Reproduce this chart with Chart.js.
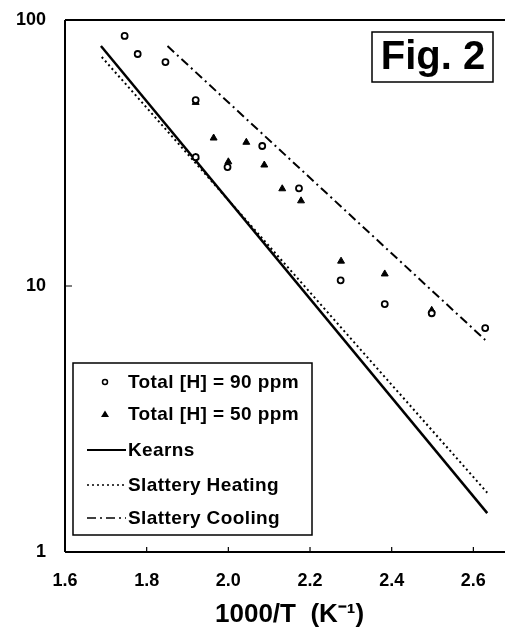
<!DOCTYPE html>
<html>
<head>
<meta charset="utf-8">
<script src="https://cdn.jsdelivr.net/npm/chart.js@4"></script>
<style>
  html, body { margin: 0; padding: 0; background: #fff; overflow: hidden; }
  #wrap { width: 520px; height: 635px; }
</style>
</head>
<body>
<div id="wrap"><canvas id="fig2" width="520" height="635"></canvas></div>
<script>
// 1000/T values and diffusivity readings
const h90X = [1.746, 1.778, 1.846, 1.92, 1.92, 1.998, 2.083, 2.173, 2.275, 2.383, 2.498, 2.629];
const h90Y = [87.1, 74.5, 69.5, 50.0, 30.5, 28.0, 33.6, 23.3, 10.5, 8.55, 7.9, 6.95];
const h50X = [1.92, 1.92, 1.964, 2.0, 2.044, 2.088, 2.132, 2.178, 2.276, 2.383, 2.498];
const h50Y = [49.0, 30.5, 36.0, 29.3, 34.7, 28.5, 23.2, 20.9, 12.4, 11.1, 8.1];

// fitted lines (end points)
const kearnsX = [1.688, 2.634];
const kearnsY = [79.8, 1.40];
const heatingX = [1.69, 2.634];
const heatingY = [72.6, 1.67];
const coolingX = [1.851, 2.629];
const coolingY = [79.8, 6.27];

const xTicks = [1.6, 1.8, 2.0, 2.2, 2.4, 2.6];
const yTicks = [1, 10, 100];

const legendItems = [
  { label: 'Total [H] = 90 ppm', kind: 'circle' },
  { label: 'Total [H] = 50 ppm', kind: 'triangle' },
  { label: 'Kearns', kind: 'solid' },
  { label: 'Slattery Heating', kind: 'dotted' },
  { label: 'Slattery Cooling', kind: 'dashdot' }
];

const pts = (xs, ys) => xs.map((x, i) => ({ x: x, y: ys[i] }));

Chart.defaults.font.family = '"Liberation Sans", Arial, sans-serif';
Chart.defaults.color = '#000';

const dashes = { solid: [], dotted: [2, 3], dashdot: [9, 4, 2, 4] };

// frame, inner tick marks, legend box and the "Fig. 2" tag
const decor = {
  id: 'decor',
  afterDatasetsDraw(chart) {
    const ctx = chart.ctx;
    const a = chart.chartArea;
    const xs = chart.scales.x, ys = chart.scales.y;
    ctx.save();
    ctx.strokeStyle = '#000';
    ctx.lineWidth = 2;
    ctx.beginPath();
    ctx.moveTo(a.left, a.top); ctx.lineTo(a.right, a.top);
    ctx.moveTo(a.left, a.top); ctx.lineTo(a.left, a.bottom);
    ctx.moveTo(a.left, a.bottom); ctx.lineTo(a.right, a.bottom);
    ctx.stroke();
    ctx.lineWidth = 1.2;
    ctx.beginPath();
    xTicks.forEach(v => {
      const px = xs.getPixelForValue(v);
      ctx.moveTo(px, a.bottom); ctx.lineTo(px, a.bottom - 5);
    });
    yTicks.forEach(v => {
      const py = ys.getPixelForValue(v);
      ctx.moveTo(a.left, py); ctx.lineTo(a.left + 7, py);
    });
    ctx.stroke();

    // legend
    const bx = 73, by = 363, bw = 239, bh = 172;
    ctx.fillStyle = '#fff';
    ctx.fillRect(bx, by, bw, bh);
    ctx.lineWidth = 1.5;
    ctx.strokeRect(bx, by, bw, bh);
    const rows = [382, 414, 450, 485, 518];
    ctx.font = 'bold 19px "Liberation Sans", Arial, sans-serif';
    ctx.letterSpacing = '0.4px';
    ctx.textBaseline = 'middle';
    ctx.textAlign = 'left';
    legendItems.forEach((it, i) => {
      const y = rows[i];
      ctx.fillStyle = '#000';
      if (it.kind === 'circle') {
        ctx.beginPath();
        ctx.lineWidth = 1.5;
        ctx.arc(105, y, 2.5, 0, Math.PI * 2);
        ctx.stroke();
      } else if (it.kind === 'triangle') {
        ctx.beginPath();
        ctx.moveTo(105, y - 3.5); ctx.lineTo(109, y + 3); ctx.lineTo(101, y + 3);
        ctx.closePath();
        ctx.fill();
      } else {
        ctx.beginPath();
        ctx.lineWidth = it.kind === 'solid' ? 2 : 1.5;
        ctx.setLineDash(dashes[it.kind]);
        ctx.moveTo(87, y); ctx.lineTo(126, y);
        ctx.stroke();
        ctx.setLineDash([]);
      }
      ctx.fillText(it.label, 128, y + 1);
    });
    ctx.letterSpacing = '0px';

    // figure tag
    ctx.lineWidth = 1.5;
    ctx.strokeRect(372, 32, 121, 50);
    ctx.font = 'bold 40px "Liberation Sans", Arial, sans-serif';
    ctx.textAlign = 'center';
    ctx.fillText('Fig. 2', 433, 58);
    ctx.restore();
  }
};

new Chart(document.getElementById('fig2'), {
  type: 'scatter',
  data: {
    datasets: [{
      label: 'Total [H] = 90 ppm',
      data: pts(h90X, h90Y),
      pointStyle: 'circle',
      pointRadius: 3,
      borderWidth: 1.8,
      borderColor: '#000',
      backgroundColor: '#fff'
    }, {
      label: 'Total [H] = 50 ppm',
      data: pts(h50X, h50Y),
      pointStyle: 'triangle',
      pointRadius: 4,
      borderWidth: 1,
      borderColor: '#000',
      backgroundColor: '#000'
    }, {
      label: 'Kearns',
      data: pts(kearnsX, kearnsY),
      showLine: true,
      pointRadius: 0,
      borderWidth: 2.5,
      borderColor: '#000'
    }, {
      label: 'Slattery Heating',
      data: pts(heatingX, heatingY),
      showLine: true,
      pointRadius: 0,
      borderWidth: 2,
      borderDash: dashes.dotted,
      borderColor: '#000'
    }, {
      label: 'Slattery Cooling',
      data: pts(coolingX, coolingY),
      showLine: true,
      pointRadius: 0,
      borderWidth: 2,
      borderDash: dashes.dashdot,
      borderColor: '#000'
    }]
  },
  options: {
    responsive: false,
    animation: false,
    devicePixelRatio: 1,
    layout: { padding: { top: 20, right: 4, left: 0, bottom: 0 } },
    plugins: {
      legend: { display: false },
      tooltip: { enabled: false }
    },
    scales: {
      x: {
        type: 'linear',
        min: 1.6,
        max: 2.7,
        border: { display: false },
        grid: { display: false, drawTicks: false },
        afterBuildTicks: s => { s.ticks = xTicks.map(v => ({ value: v })); },
        afterFit: s => { s.height = 83; s.paddingLeft = 0; s.paddingRight = 0; },
        ticks: {
          padding: 18,
          font: { size: 18, weight: 'bold' },
          callback: v => Number(v).toFixed(1)
        },
        title: {
          display: true,
          text: '1000/T  (K⁻¹)',
          font: { size: 26, weight: 'bold' },
          padding: { top: 0, bottom: 5 }
        }
      },
      y: {
        type: 'logarithmic',
        min: 1,
        max: 100,
        border: { display: false },
        grid: { display: false, drawTicks: false },
        afterBuildTicks: s => { s.ticks = yTicks.map(v => ({ value: v })); },
        afterFit: s => { s.width = 65; s.paddingTop = 0; s.paddingBottom = 0; },
        ticks: {
          padding: 19,
          font: { size: 18, weight: 'bold' },
          callback: v => String(v)
        }
      }
    }
  },
  plugins: [decor]
});
</script>
</body>
</html>
